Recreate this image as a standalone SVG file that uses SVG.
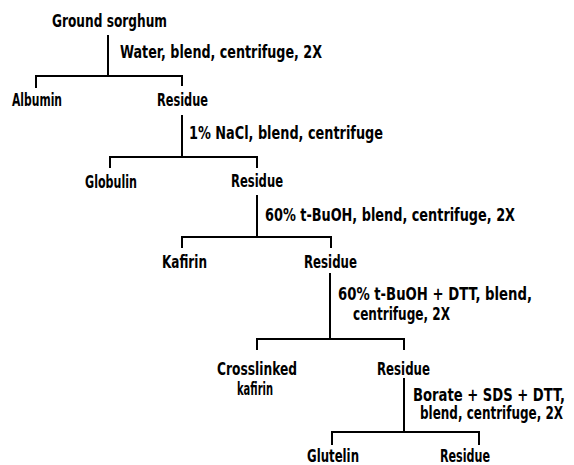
<svg xmlns="http://www.w3.org/2000/svg" width="574" height="465" viewBox="0 0 574 465">
<style>
text{font-family:"DejaVu Sans Condensed","DejaVu Sans","Liberation Sans",sans-serif;font-weight:bold;font-size:17px;fill:#000}
.c path{fill:none;stroke:#000;stroke-width:2}
</style>
<rect width="574" height="465" fill="#fff"/>
<g class="c" id="connectors">
<path d="M108,35V76M36,88V76H182V86"/>
<path d="M182,115V157M110,168V157H257V168"/>
<path d="M257,195V237M182,248V237H331V248"/>
<path d="M330,273V339M257,350V339H404V350"/>
<path d="M404,378V432M332,445V432H479V445"/>
</g>
<g id="labels">
<text transform="translate(120,58) scale(0.8,1)" textLength="252.5" lengthAdjust="spacingAndGlyphs">Water, blend, centrifuge, 2X</text>
<text transform="translate(189,139) scale(0.8,1)" textLength="242.5" lengthAdjust="spacingAndGlyphs">1% NaCl, blend, centrifuge</text>
<text transform="translate(265,221) scale(0.8,1)" textLength="312.5" lengthAdjust="spacingAndGlyphs">60% t-BuOH, blend, centrifuge, 2X</text>
<text transform="translate(338,300) scale(0.8,1)" textLength="242.5" lengthAdjust="spacingAndGlyphs">60% t-BuOH + DTT, blend,</text>
<text transform="translate(353,320) scale(0.8,1)" textLength="121.25" lengthAdjust="spacingAndGlyphs">centrifuge, 2X</text>
<text transform="translate(413,401) scale(0.8,1)" textLength="190" lengthAdjust="spacingAndGlyphs">Borate + SDS + DTT,</text>
<text transform="translate(420,419) scale(0.8,1)" textLength="178.75" lengthAdjust="spacingAndGlyphs">blend, centrifuge, 2X</text>
</g>
<g id="ground-sorghum"><text transform="translate(52,27) scale(0.8,1)" textLength="143.75" lengthAdjust="spacingAndGlyphs">Ground sorghum</text></g>
<g id="albumin"><text transform="translate(12,106) scale(0.8,1)" textLength="62.5" lengthAdjust="spacingAndGlyphs">Albumin</text></g>
<g id="residue1"><text transform="translate(157,106) scale(0.8,1)" textLength="63.75" lengthAdjust="spacingAndGlyphs">Residue</text></g>
<g id="globulin"><text transform="translate(85,188) scale(0.8,1)" textLength="65" lengthAdjust="spacingAndGlyphs">Globulin</text></g>
<g id="residue2"><text transform="translate(231,187) scale(0.8,1)" textLength="65" lengthAdjust="spacingAndGlyphs">Residue</text></g>
<g id="kafirin"><text transform="translate(162,268) scale(0.8,1)" textLength="56.25" lengthAdjust="spacingAndGlyphs">Kafirin</text></g>
<g id="residue3"><text transform="translate(304,268) scale(0.8,1)" textLength="66.25" lengthAdjust="spacingAndGlyphs">Residue</text></g>
<g id="crosslinked-kafirin"><text transform="translate(217,375) scale(0.8,1)" textLength="100" lengthAdjust="spacingAndGlyphs">Crosslinked</text><text transform="translate(237,395) scale(0.8,1)" textLength="45" lengthAdjust="spacingAndGlyphs">kafirin</text></g>
<g id="residue4"><text transform="translate(377,375) scale(0.8,1)" textLength="66.25" lengthAdjust="spacingAndGlyphs">Residue</text></g>
<g id="glutelin"><text transform="translate(307,462) scale(0.8,1)" textLength="65" lengthAdjust="spacingAndGlyphs">Glutelin</text></g>
<g id="residue5"><text transform="translate(440,462) scale(0.8,1)" textLength="62.5" lengthAdjust="spacingAndGlyphs">Residue</text></g>
</svg>
